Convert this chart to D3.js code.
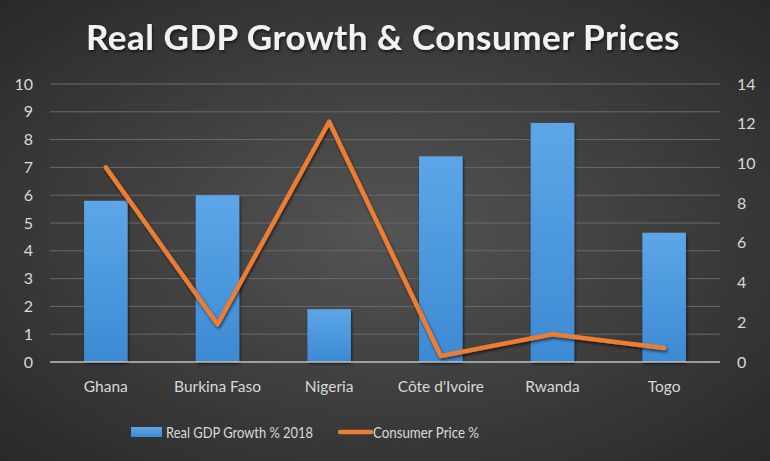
<!DOCTYPE html>
<html>
<head>
<meta charset="utf-8">
<script src="https://cdn.jsdelivr.net/npm/d3@7"></script>
<style>
  body { margin: 0; background: #2b2b2b; }
  svg { display: block; }
  text { font-family: Lato, "Open Sans", sans-serif; }
</style>
</head>
<body>
<div id="viz"></div>
<script>
const categories = ['Ghana', 'Burkina Faso', 'Nigeria', "Côte d'Ivoire", 'Rwanda', 'Togo'];
const gdpGrowth = [5.8, 6.0, 1.9, 7.4, 8.6, 4.65];
const consumerPrice = [9.8, 1.9, 12.1, 0.3, 1.4, 0.7];
const leftTicks = [0, 1, 2, 3, 4, 5, 6, 7, 8, 9, 10];
const rightTicks = [0, 2, 4, 6, 8, 10, 12, 14];

const width = 770;
const height = 461;

const svg = d3.select('#viz')
  .append('svg')
  .attr('width', width)
  .attr('height', height);

const defs = svg.append('defs');

const bg = defs.append('radialGradient')
  .attr('id', 'bg')
  .attr('cx', '50%').attr('cy', '50%').attr('r', '75%');
bg.append('stop').attr('offset', '0%').attr('stop-color', '#545454');
bg.append('stop').attr('offset', '100%').attr('stop-color', '#262626');

const barGrad = defs.append('linearGradient')
  .attr('id', 'barGrad')
  .attr('x1', 0).attr('y1', 0).attr('x2', 0).attr('y2', 1);
barGrad.append('stop').attr('offset', '0%').attr('stop-color', '#5ca6e8');
barGrad.append('stop').attr('offset', '100%').attr('stop-color', '#3d8ad3');

const shadow = defs.append('filter')
  .attr('id', 'shadow')
  .attr('x', '-10%').attr('y', '-10%').attr('width', '120%').attr('height', '130%');
shadow.append('feDropShadow')
  .attr('dx', 1).attr('dy', 2).attr('stdDeviation', 1.5)
  .attr('flood-color', '#000').attr('flood-opacity', 0.6);

svg.append('rect')
  .attr('width', width)
  .attr('height', height)
  .attr('fill', 'url(#bg)');

// scales
const x = d3.scaleBand()
  .domain(categories)
  .range([50, 720])
  .paddingInner(0.61)
  .paddingOuter(0.305);

const xPoint = d => x(d) + x.bandwidth() / 2;

const y = d3.scaleLinear().domain([0, 10]).range([362, 84]);
const y2 = d3.scaleLinear().domain([0, 14]).range([362, 84]);

// gridlines
svg.append('g')
  .selectAll('line')
  .data(leftTicks.filter(d => d > 0))
  .join('line')
  .attr('x1', 50).attr('x2', 720)
  .attr('y1', d => y(d)).attr('y2', d => y(d))
  .attr('stroke', '#6a6a6a')
  .attr('stroke-width', 1);

// left axis
const yAxis = d3.axisLeft(y).tickValues(leftTicks).tickSize(0).tickPadding(0);
svg.append('g')
  .attr('transform', 'translate(33,0)')
  .call(yAxis)
  .call(g => g.select('.domain').remove())
  .call(g => g.selectAll('text')
    .attr('fill', '#d9d9d9')
    .style('font-size', '16px'));

// right axis
const yAxis2 = d3.axisRight(y2).tickValues(rightTicks).tickSize(0).tickPadding(0);
svg.append('g')
  .attr('transform', 'translate(737,0)')
  .call(yAxis2)
  .call(g => g.select('.domain').remove())
  .call(g => g.selectAll('text')
    .attr('fill', '#d9d9d9')
    .style('font-size', '16px'));

// bars
svg.append('g')
  .selectAll('rect')
  .data(categories)
  .join('rect')
  .attr('x', d => x(d))
  .attr('y', (d, i) => y(gdpGrowth[i]))
  .attr('width', x.bandwidth())
  .attr('height', (d, i) => y(0) - y(gdpGrowth[i]))
  .attr('fill', 'url(#barGrad)')
  .attr('filter', 'url(#shadow)');

// baseline
svg.append('line')
  .attr('x1', 50).attr('x2', 720)
  .attr('y1', y(0)).attr('y2', y(0))
  .attr('stroke', '#bfbfbf')
  .attr('stroke-width', 1.5);

// x axis labels
const xAxis = d3.axisBottom(x).tickSize(0).tickPadding(0);
svg.append('g')
  .attr('transform', 'translate(0,381)')
  .call(xAxis)
  .call(g => g.select('.domain').remove())
  .call(g => g.selectAll('text')
    .attr('fill', '#d9d9d9')
    .style('font-size', '15.5px'));

// line
const line = d3.line()
  .x((d, i) => xPoint(categories[i]))
  .y(d => y2(d));

svg.append('path')
  .datum(consumerPrice)
  .attr('d', line)
  .attr('fill', 'none')
  .attr('stroke', '#ed7d31')
  .attr('stroke-width', 4.5)
  .attr('stroke-linejoin', 'round')
  .attr('stroke-linecap', 'round')
  .attr('filter', 'url(#shadow)');

// title
svg.append('text')
  .attr('x', 383)
  .attr('y', 50)
  .attr('text-anchor', 'middle')
  .attr('fill', '#f2f2f2')
  .attr('filter', 'url(#shadow)')
  .style('font-size', '35px')
  .style('font-weight', 'bold')
  .style('letter-spacing', '0.5px')
  .text('Real GDP Growth & Consumer Prices');

// legend
const legend = svg.append('g').attr('transform', 'translate(0,432)');
legend.append('rect')
  .attr('x', 131).attr('y', -5)
  .attr('width', 31).attr('height', 10)
  .attr('fill', 'url(#barGrad)');
legend.append('text')
  .attr('x', 166).attr('y', 0)
  .attr('dy', '0.35em')
  .attr('fill', '#d9d9d9')
  .attr('textLength', 147)
  .attr('lengthAdjust', 'spacingAndGlyphs')
  .style('font-size', '16px')
  .text('Real GDP Growth % 2018');
legend.append('line')
  .attr('x1', 340).attr('x2', 371)
  .attr('y1', 0).attr('y2', 0)
  .attr('stroke', '#ed7d31')
  .attr('stroke-width', 4.5)
  .attr('stroke-linecap', 'round');
legend.append('text')
  .attr('x', 373).attr('y', 0)
  .attr('dy', '0.35em')
  .attr('fill', '#d9d9d9')
  .attr('textLength', 106)
  .attr('lengthAdjust', 'spacingAndGlyphs')
  .style('font-size', '16px')
  .text('Consumer Price %');
</script>
</body>
</html>
